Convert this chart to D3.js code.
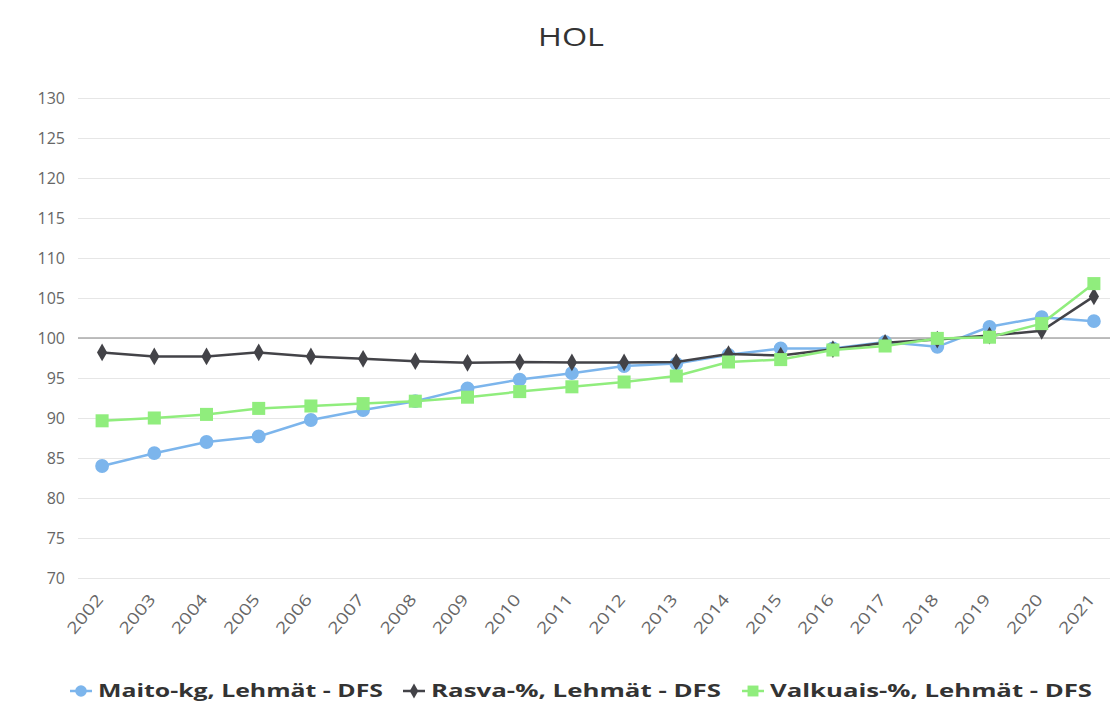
<!DOCTYPE html>
<html>
<head>
<meta charset="utf-8">
<script src="https://cdn.jsdelivr.net/npm/d3@7"></script>
<style>
  body { margin: 0; background: #fff; }
  svg { display: block; font-family: "Open Sans", "DejaVu Sans", sans-serif; }
</style>
</head>
<body>
<div id="chart"></div>
<script>
// data
const years = ["2002","2003","2004","2005","2006","2007","2008","2009","2010","2011",
               "2012","2013","2014","2015","2016","2017","2018","2019","2020","2021"];
const maito = [84.0, 85.6, 87.0, 87.7, 89.75, 91.0, 92.1, 93.7, 94.8, 95.6,
               96.5, 96.8, 97.9, 98.7, 98.7, 99.5, 98.9, 101.4, 102.6, 102.1];
const rasva = [98.2, 97.7, 97.7, 98.2, 97.7, 97.4, 97.1, 96.9, 97.0, 96.95,
               96.95, 97.0, 98.0, 97.8, 98.6, 99.4, 99.8, 100.3, 100.9, 105.2];
const valkuais = [89.65, 90.0, 90.45, 91.2, 91.5, 91.8, 92.1, 92.6, 93.3, 93.9,
                  94.5, 95.25, 97.0, 97.3, 98.5, 99.0, 99.95, 100.1, 101.8, 106.8];
const yTicks = [70, 75, 80, 85, 90, 95, 100, 105, 110, 115, 120, 125, 130];

const series = [
  { name: "Maito-kg, Lehmät - DFS", values: maito, color: "#7cb5ec", symbol: "circle" },
  { name: "Rasva-%, Lehmät - DFS", values: rasva, color: "#434348", symbol: "diamond" },
  { name: "Valkuais-%, Lehmät - DFS", values: valkuais, color: "#90ed7d", symbol: "square" }
];

const width = 1110, height = 710;
const plot = { left: 76, right: 1120, top: 98, bottom: 578 };

const svg = d3.select("#chart").append("svg")
  .attr("width", width).attr("height", height);

const x = d3.scaleBand().domain(years).range([plot.left, plot.right]);
const y = d3.scaleLinear().domain([70, 130]).range([plot.bottom, plot.top]);
const cx = d => x(d) + x.bandwidth() / 2;

// title
svg.append("text")
  .attr("x", 571).attr("y", 46)
  .attr("text-anchor", "middle")
  .attr("textLength", 66).attr("lengthAdjust", "spacingAndGlyphs")
  .style("font-size", "25px").style("fill", "#333")
  .text("HOL");

// grid
svg.append("g").selectAll("line").data(yTicks).join("line")
  .attr("x1", plot.left + 2).attr("x2", width)
  .attr("y1", d => Math.round(y(d)) + 0.5).attr("y2", d => Math.round(y(d)) + 0.5)
  .attr("stroke", "#e6e6e6").attr("stroke-width", 1);

// 100 reference line
svg.append("line")
  .attr("x1", plot.left + 2).attr("x2", width)
  .attr("y1", y(100)).attr("y2", y(100))
  .attr("stroke", "#aaaaaa").attr("stroke-width", 1.5);

// y labels
svg.append("g").selectAll("text").data(yTicks).join("text")
  .attr("x", 65).attr("y", d => y(d) + 5.5)
  .attr("text-anchor", "end")
  .style("font-size", "16px").style("fill", "#666")
  .text(d => d);

// x labels
svg.append("g").selectAll("text").data(years).join("text")
  .attr("transform", d => `translate(${cx(d) + 2},${plot.bottom + 22}) rotate(-50)`)
  .attr("text-anchor", "end")
  .attr("textLength", 46).attr("lengthAdjust", "spacingAndGlyphs")
  .style("font-size", "16px").style("fill", "#666")
  .text(d => d);

const symbolType = { circle: d3.symbolCircle, diamond: d3.symbolDiamond, square: d3.symbolSquare };
const symbolSize = { circle: 150, diamond: 90, square: 170 };

const line = d3.line().x((d, i) => cx(years[i])).y(d => y(d));

series.forEach(s => {
  const g = svg.append("g");
  g.append("path")
    .attr("d", line(s.values))
    .attr("fill", "none")
    .attr("stroke", s.color)
    .attr("stroke-width", 2.5);
  g.selectAll("path.m").data(s.values).join("path")
    .attr("class", "m")
    .attr("transform", (d, i) => `translate(${cx(years[i])},${y(d)})`)
    .attr("d", d3.symbol().type(symbolType[s.symbol]).size(symbolSize[s.symbol]))
    .attr("fill", s.color);
});

// legend
const legendX = [70, 403, 742];
const legendW = [285, 290, 322];
const legend = svg.append("g");
series.forEach((s, i) => {
  const g = legend.append("g").attr("transform", `translate(${legendX[i]},691)`);
  g.append("line").attr("x1", 0).attr("x2", 22).attr("y1", 0).attr("y2", 0)
    .attr("stroke", s.color).attr("stroke-width", 2.5);
  g.append("path").attr("transform", "translate(11,0)")
    .attr("d", d3.symbol().type(symbolType[s.symbol]).size(symbolSize[s.symbol] * 0.7))
    .attr("fill", s.color);
  g.append("text")
    .attr("x", 28).attr("y", 6)
    .attr("textLength", legendW[i]).attr("lengthAdjust", "spacingAndGlyphs")
    .style("font-size", "17px").style("font-weight", "bold").style("fill", "#333")
    .text(s.name);
});
</script>
</body>
</html>
